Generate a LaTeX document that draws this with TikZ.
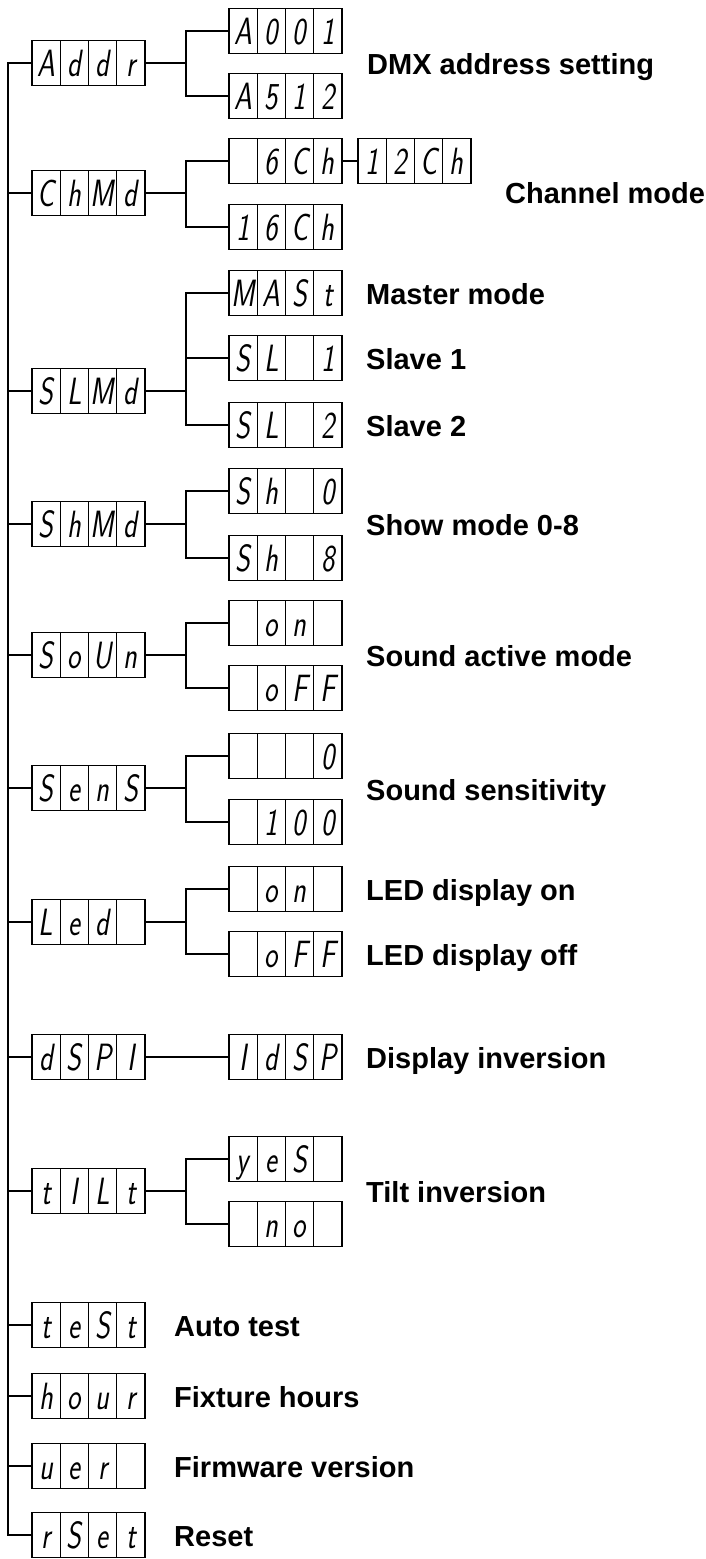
\documentclass[tikz,border=0pt]{standalone}
\usepackage{fontspec}
\setmainfont{Liberation Sans}
\newfontfamily\segfont[FakeStretch=0.75]{lmsans17-oblique.otf}
\usetikzlibrary{positioning}

\tikzset{
  cell/.style={draw, line width=1.3pt, minimum width=28.25pt, minimum height=45pt,
    inner sep=0pt, outer sep=0pt, text height=26pt, text depth=0pt,
    font=\segfont\fontsize{38}{38}\selectfont},
  lbl/.style={anchor=base west, inner sep=0pt, font=\bfseries\fontsize{29}{29}\selectfont},
  wire/.style={line width=1.5pt}
}

% one four-digit display: name, left end, four characters
\newcommand{\lcd}[6]{%
  \node[cell, anchor=west] (#1-1) at (#2) {#3};
  \node[cell, right=0pt of #1-1] (#1-2) {#4};
  \node[cell, right=0pt of #1-2] (#1-3) {#5};
  \node[cell, right=0pt of #1-3] (#1-4) {#6};
}

\begin{document}
\begin{tikzpicture}[x=1pt, y=-1pt]
\useasboundingbox (0,0) rectangle (705,1559);

% main menu
\lcd{addr}{32,63}{A}{d}{d}{r}
\lcd{chmd}{32,193}{C}{h}{M}{d}
\lcd{slmd}{32,391}{S}{L}{M}{d}
\lcd{shmd}{32,524}{S}{h}{M}{d}
\lcd{soun}{32,655}{S}{o}{U}{n}
\lcd{sens}{32,788}{S}{e}{n}{S}
\lcd{led}{32,922}{L}{e}{d}{}
\lcd{dspi}{32,1057}{d}{S}{P}{I}
\lcd{tilt}{32,1191}{t}{I}{L}{t}
\lcd{test}{32,1325}{t}{e}{S}{t}
\lcd{hour}{32,1396}{h}{o}{u}{r}
\lcd{uer}{32,1466}{u}{e}{r}{}
\lcd{rset}{32,1535}{r}{S}{e}{t}

% sub menus
\lcd{a001}{229,31}{A}{0}{0}{1}
\lcd{a512}{229,96}{A}{5}{1}{2}
\lcd{ch6}{229,161}{}{6}{C}{h}
\lcd{ch12}{358,161}{1}{2}{C}{h}
\lcd{ch16}{229,227}{1}{6}{C}{h}
\lcd{mast}{229,293}{M}{A}{S}{t}
\lcd{sl1}{229,358}{S}{L}{}{1}
\lcd{sl2}{229,425}{S}{L}{}{2}
\lcd{sh0}{229,491}{S}{h}{}{0}
\lcd{sh8}{229,558}{S}{h}{}{8}
\lcd{son}{229,623}{}{o}{n}{}
\lcd{soff}{229,688}{}{o}{F}{F}
\lcd{s0}{229,756}{}{}{}{0}
\lcd{s100}{229,822}{}{1}{0}{0}
\lcd{lon}{229,889}{}{o}{n}{}
\lcd{loff}{229,954}{}{o}{F}{F}
\lcd{idsp}{229,1057}{I}{d}{S}{P}
\lcd{yes}{229,1159}{y}{e}{S}{}
\lcd{no}{229,1224}{}{n}{o}{}

% connectors
\coordinate (trunk) at (8,1535);
\coordinate (jx) at (186,0);
\draw[wire] (addr-1.west) -| (trunk) -- (rset-1.west);
\foreach \n in {chmd,slmd,shmd,soun,sens,led,dspi,tilt,test,hour,uer}
  \draw[wire] (\n-1.west) -- (\n-1.west -| trunk);
\foreach \p/\a/\b in {addr/a001/a512, chmd/ch6/ch16, slmd/mast/sl2, shmd/sh0/sh8,
    soun/son/soff, sens/s0/s100, led/lon/loff, tilt/yes/no}{
  \draw[wire] (\a-1.west) -| (jx |- \b-1.west) -- (\b-1.west);
  \draw[wire] (\p-4.east) -- (\p-4.east -| jx);
}
\draw[wire] (sl1-1.west) -- (sl1-1.west -| jx);
\draw[wire] (ch6-4.east) -- (ch12-1.west);
\draw[wire] (dspi-4.east) -- (idsp-1.west);

% descriptions
\node[lbl] (dmx) at (367,74) {DMX address setting};
\node[lbl] (chan) at (505,203) {Channel mode};
\node[lbl] (master) at (366,304) {Master mode};
\node[lbl] (slave1) at (366,369) {Slave 1};
\node[lbl] (slave2) at (366,436) {Slave 2};
\node[lbl] (show) at (366,535) {Show mode 0-8};
\node[lbl] (sound) at (366,666) {Sound active mode};
\node[lbl] (sensit) at (366,800) {Sound sensitivity};
\node[lbl] (ledon) at (366,900) {LED display on};
\node[lbl] (ledoff) at (366,965) {LED display off};
\node[lbl] (inv) at (366,1068) {Display inversion};
\node[lbl] (tiltinv) at (366,1202) {Tilt inversion};
\node[lbl] (autotest) at (174,1336) {Auto test};
\node[lbl] (hours) at (174,1407) {Fixture hours};
\node[lbl] (firmware) at (174,1477) {Firmware version};
\node[lbl] (reset) at (174,1546) {Reset};
\end{tikzpicture}
\end{document}
